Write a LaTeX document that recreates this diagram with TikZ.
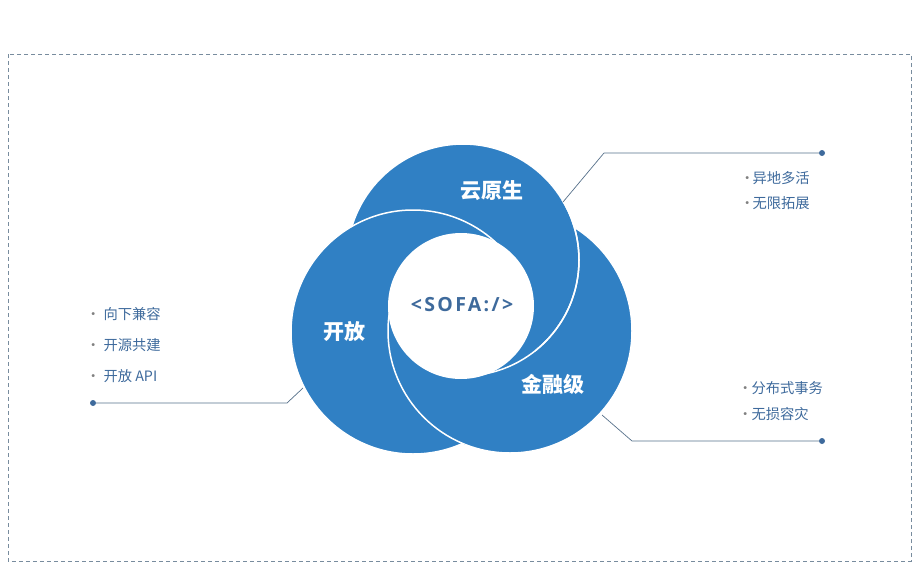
\documentclass[tikz,border=0pt]{standalone}
\usepackage{fontspec}
\setmainfont{Noto Sans CJK SC}
\newfontfamily\sofafont[LetterSpace=12]{Open Sans}
\usetikzlibrary{calc}
\definecolor{sofablue}{RGB}{48,128,196}
\definecolor{sofaink}{RGB}{62,106,156}
\definecolor{leadgray}{RGB}{86,112,138}
\definecolor{framegray}{RGB}{120,140,158}

\begin{document}
\begin{tikzpicture}[x=1pt,y=-1pt,
    petal/.style={fill=sofablue,draw=white,line width=1.5pt},
    tag/.style={text=white,font=\fontsize{21}{21}\selectfont\bfseries},
    item/.style={anchor=west,inner sep=0pt,text=sofaink,font=\fontsize{14.3}{15}\selectfont},
    lead/.style={draw=leadgray,line width=0.7pt},
    knob/.style={circle,fill=sofaink,inner sep=0pt,minimum size=6pt}]
      \useasboundingbox (0,0) rectangle (919,565);
      \draw[framegray,dash pattern=on 4pt off 3pt,line width=0.8pt] (8,54) rectangle (911,561);

      % rings: right, top, left, then right again over the left one
      \path[petal] (510,331) circle (122);
      \path[petal] (463,260) circle (116);
      \path[petal] (413,332) circle (122);
      \begin{scope}
        \clip (413,332) circle (123.5);
        \clip (250,295) rectangle (650,470);
        \path[petal] (510,331) circle (122);
      \end{scope}
      \begin{scope}
        \clip (470,200) rectangle (650,400);
        \draw[white,line width=1.5pt] (463,260) circle (116);
      \end{scope}
      \fill[white] (461,306) circle (73);

      \node (sofa) at (462,305) [text=sofaink,font=\fontsize{19.5}{20}\selectfont\sofafont\bfseries] {<SOFA:/>};
      \node (cloud) at (492,191) [tag] {云原生};
      \node (open) at (344,332) [tag] {开放};
      \node (fin) at (553,384) [tag] {金融级};

      % leader lines
      \coordinate (cloudEdge) at (563,202);
      \coordinate (cloudBend) at (604,153);
      \node[knob] (cloudDot) at (822,153) {};
      \draw[lead] (cloudEdge) -- (cloudBend) -- (cloudDot);

      \coordinate (openEdge) at (303,388);
      \coordinate (openBend) at (287,403);
      \node[knob] (openDot) at (93,403) {};
      \draw[lead] (openEdge) -- (openBend) -- (openDot);

      \coordinate (finEdge) at (602,415);
      \coordinate (finBend) at (632,441);
      \node[knob] (finDot) at (822,441) {};
      \draw[lead] (finEdge) -- (finBend) -- (finDot);

      \node (c1) at (740,178) [item] {{\color{gray}·}\hspace{-2pt}异地多活};
      \node (c2) at (740,203) [item] {{\color{gray}·}\hspace{-2pt}无限拓展};
      \node (o1) at (86,314) [item] {{\color{gray}·}\hspace{3pt}向下兼容};
      \node (o2) at (86,345) [item] {{\color{gray}·}\hspace{3pt}开源共建};
      \node (o3) at (86,376) [item] {{\color{gray}·}\hspace{3pt}开放 API};
      \node (f1) at (738,388) [item] {{\color{gray}·}\hspace{-1pt}分布式事务};
      \node (f2) at (738,414) [item] {{\color{gray}·}\hspace{-1pt}无损容灾};
\end{tikzpicture}
\end{document}
